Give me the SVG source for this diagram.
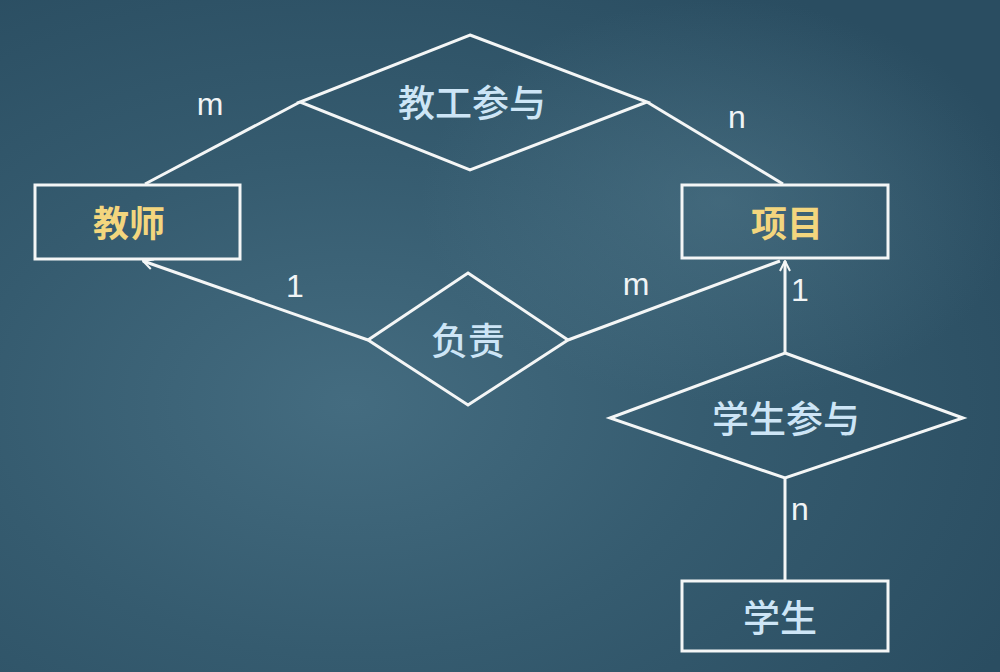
<svg xmlns="http://www.w3.org/2000/svg" width="1000" height="672" viewBox="0 0 1000 672">
<style>
.box{fill:none;stroke:#f4f6f6;stroke-width:3}
.dia{fill:none;stroke:#f4f6f6;stroke-width:3;stroke-linejoin:miter}
.ln{fill:none;stroke:#f4f6f6;stroke-width:3}
.ent{font-family:"Noto Sans CJK SC","Noto Sans",sans-serif;font-weight:bold;font-size:36px;fill:#f3d67e;text-anchor:middle;dominant-baseline:central}
.rel{font-family:"Noto Sans CJK SC","Noto Sans",sans-serif;font-weight:500;font-size:37px;fill:#cde5f6;text-anchor:middle;dominant-baseline:central}
.ent2{font-family:"Noto Sans CJK SC","Noto Sans",sans-serif;font-weight:500;font-size:37px;fill:#cde5f6;text-anchor:middle;dominant-baseline:central}
.card{font-family:"Liberation Sans",Arial,sans-serif;font-size:32px;fill:#f0f4f6;text-anchor:middle;dominant-baseline:central}
</style>
<defs>
<radialGradient id="bg" cx="0.35" cy="0.6" r="0.75">
<stop offset="0" stop-color="#446c80"/>
<stop offset="0.5" stop-color="#355b6f"/>
<stop offset="1" stop-color="#2a4d61"/>
</radialGradient>
<radialGradient id="glow" cx="0.72" cy="0.3" r="0.3">
<stop offset="0" stop-color="#5a8294" stop-opacity="0.4"/>
<stop offset="1" stop-color="#5a8294" stop-opacity="0"/>
</radialGradient>
<marker id="arr" viewBox="0 0 12 12" refX="11" refY="6" markerWidth="12" markerHeight="12" markerUnits="userSpaceOnUse" orient="auto">
<path d="M1,1 L11,6 L1,11" fill="none" stroke="#f4f6f6" stroke-width="2"/>
</marker>
</defs>
<rect width="1000" height="672" fill="url(#bg)"/>
<rect width="1000" height="672" fill="url(#glow)"/>
<g id="connectors">
<line class="ln" x1="300" y1="102" x2="145" y2="184"/>
<line class="ln" x1="647" y1="102" x2="783" y2="184"/>
<line class="ln" x1="368" y1="340" x2="143" y2="261" marker-end="url(#arr)"/>
<line class="ln" x1="568" y1="340" x2="780" y2="261"/>
<line class="ln" x1="785" y1="353" x2="785" y2="261" marker-end="url(#arr)"/>
<line class="ln" x1="785" y1="478" x2="785" y2="581"/>
</g>
<g id="teacher">
<rect class="box" x="35" y="185" width="205" height="74"/>
<text class="ent" x="129" y="221">教师</text>
</g>
<g id="project">
<rect class="box" x="682" y="185" width="206" height="73"/>
<text class="ent" x="787" y="221">项目</text>
</g>
<g id="student">
<rect class="box" x="682" y="581" width="206" height="70"/>
<text class="ent2" x="780" y="616">学生</text>
</g>
<g id="teacher-participate">
<polygon class="dia" points="470,35 647,102 470,170 300,102"/>
<text class="rel" x="472" y="101">教工参与</text>
</g>
<g id="responsible">
<polygon class="dia" points="468,273 568,340 468,405 368,340"/>
<text class="rel" x="468" y="339">负责</text>
</g>
<g id="student-participate">
<polygon class="dia" points="785,353 963,418 785,478 610,418"/>
<text class="rel" x="786" y="417">学生参与</text>
</g>
<g id="cardinalities">
<text class="card" x="210" y="104">m</text>
<text class="card" x="737" y="117">n</text>
<text class="card" x="295" y="286">1</text>
<text class="card" x="636" y="284">m</text>
<text class="card" x="800" y="290">1</text>
<text class="card" x="800" y="509">n</text>
</g>
</svg>
